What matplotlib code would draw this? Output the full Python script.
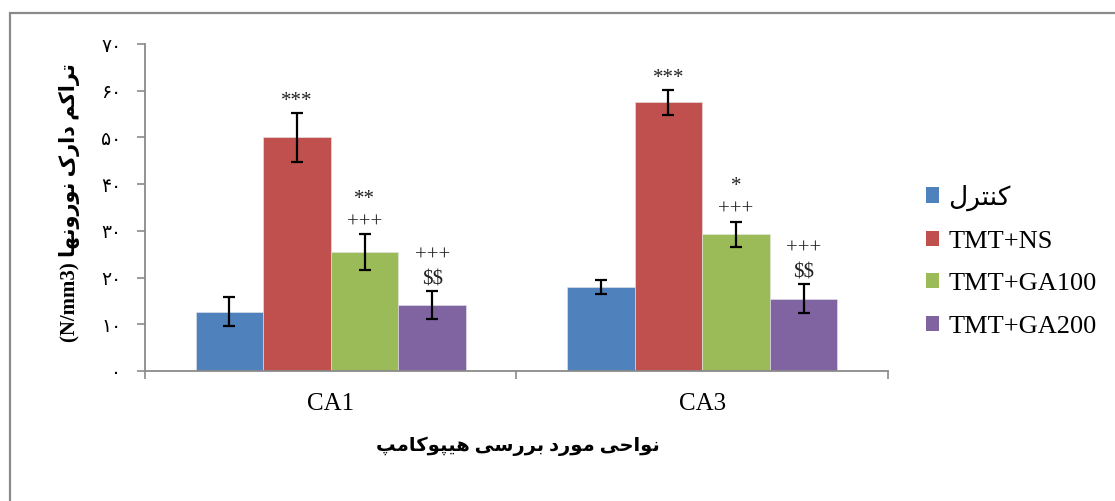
import matplotlib
matplotlib.use("Agg")
import matplotlib.pyplot as plt
from matplotlib.patches import Patch, Rectangle
from matplotlib.font_manager import FontProperties
import numpy as np

# ---- data -------------------------------------------------------------
regions = ["CA1", "CA3"]
groups = ["کنترل", "TMT+NS", "TMT+GA100", "TMT+GA200"]
means = {
    "کنترل":     [12.7, 17.9],
    "TMT+NS":    [50.0, 57.5],
    "TMT+GA100": [25.5, 29.3],
    "TMT+GA200": [14.1, 15.5],
}
errors = {
    "کنترل":     [3.1, 1.5],
    "TMT+NS":    [5.2, 2.7],
    "TMT+GA100": [3.8, 2.7],
    "TMT+GA200": [3.0, 3.1],
}
# significance marks per region (stacked lines, top line first)
sig_marks = {
    "کنترل":     ["", ""],
    "TMT+NS":    ["***", "***"],
    "TMT+GA100": ["**\n+++", "*\n+++"],
    "TMT+GA200": ["+++\n$$", "+++\n$$"],
}
colors = ["#4F81BD", "#C0504D", "#9BBB59", "#8064A2"]
y_ticks = [0, 10, 20, 30, 40, 50, 60, 70]
y_label_fa = "تراکم دارک نورونها"
y_label_unit = "(N/mm3)"
x_label_fa = "نواحی مورد بررسی هیپوکامپ"

# ---- minimal Persian shaping (matplotlib has no complex text layout) ---
FORMS = {  # isolated, final, initial, medial
    "ا": ("\uFE8D", "\uFE8E", None, None),
    "ب": ("\uFE8F", "\uFE90", "\uFE91", "\uFE92"),
    "پ": ("\uFB56", "\uFB57", "\uFB58", "\uFB59"),
    "ت": ("\uFE95", "\uFE96", "\uFE97", "\uFE98"),
    "ح": ("\uFEA1", "\uFEA2", "\uFEA3", "\uFEA4"),
    "د": ("\uFEA9", "\uFEAA", None, None),
    "ر": ("\uFEAD", "\uFEAE", None, None),
    "س": ("\uFEB1", "\uFEB2", "\uFEB3", "\uFEB4"),
    "ک": ("\uFB8E", "\uFB8F", "\uFB90", "\uFB91"),
    "ل": ("\uFEDD", "\uFEDE", "\uFEDF", "\uFEE0"),
    "م": ("\uFEE1", "\uFEE2", "\uFEE3", "\uFEE4"),
    "ن": ("\uFEE5", "\uFEE6", "\uFEE7", "\uFEE8"),
    "ه": ("\uFEE9", "\uFEEA", "\uFEEB", "\uFEEC"),
    "و": ("\uFEED", "\uFEEE", None, None),
    "ی": ("\uFBFC", "\uFBFD", "\uFBFE", "\uFBFF"),
}


def shape_fa(text):
    chars = list(text)
    out = []
    for i, c in enumerate(chars):
        if c not in FORMS:
            out.append(c)
            continue
        prev = chars[i - 1] if i > 0 else None
        nxt = chars[i + 1] if i + 1 < len(chars) else None
        joins_prev = prev in FORMS and FORMS[prev][2] is not None
        joins_next = FORMS[c][2] is not None and nxt in FORMS
        iso, fin, ini, med = FORMS[c]
        if joins_prev and joins_next:
            out.append(med)
        elif joins_prev:
            out.append(fin)
        elif joins_next:
            out.append(ini)
        else:
            out.append(iso)
    return "".join(reversed(out))


def fa_digits(n):
    return "".join(chr(0x06F0 + int(d)) for d in str(n))


FAMILY = ["Liberation Serif", "DejaVu Sans"]
plt.rcParams["font.family"] = FAMILY

# ---- figure -------------------------------------------------------------
W, H = 1115, 501
fig = plt.figure(figsize=(W / 100, H / 100), dpi=100)
fig.patch.set_facecolor("white")

# outer chart-area frame (runs off the right and bottom edges)
fig.add_artist(Rectangle((9.5 / W, -0.1), 1.2, 1 - 12.5 / H + 0.1,
                         transform=fig.transFigure, fill=False,
                         edgecolor="#8a8a8a", linewidth=1.6))

ax = fig.add_axes([145 / W, 1 - 371 / H, (888 - 145) / W, (371 - 44) / H])

x = np.arange(len(regions))
bar_w = 0.182
offsets = (np.arange(len(groups)) - 1.5) * bar_w
for g, col, off in zip(groups, colors, offsets):
    ax.bar(x + off, means[g], bar_w, color=col, edgecolor="#e8e8e8",
           linewidth=0.4, zorder=2)
    ax.errorbar(x + off, means[g], yerr=errors[g], fmt="none",
                ecolor="black", elinewidth=1.6, capsize=4.5, capthick=1.6,
                zorder=3)
    for xi, m, e, s in zip(x + off, means[g], errors[g], sig_marks[g]):
        if s:
            ax.annotate(s, (xi, m + e), xytext=(0, 2),
                        textcoords="offset pixels", ha="center", va="bottom",
                        fontsize=15, color="#222222", linespacing=1.3,
                        family="Liberation Serif", parse_math=False)

ax.set_xlim(-0.5, 1.5)
ax.set_ylim(0, 70)

for sp in ("top", "right"):
    ax.spines[sp].set_visible(False)
for sp in ("left", "bottom"):
    ax.spines[sp].set_color("#8a8a8a")
    ax.spines[sp].set_linewidth(1.3)

ax.set_yticks(y_ticks)
ax.set_yticklabels([fa_digits(v) for v in y_ticks], fontsize=13.5,
                   family="DejaVu Sans")
ax.tick_params(axis="y", direction="out", length=6, width=1.2,
               color="#8a8a8a", pad=11)

ax.set_xticks(x)
ax.set_xticklabels(regions, fontsize=18)
ax.set_xticks([-0.5, 0.5, 1.5], minor=True)
ax.tick_params(axis="x", which="major", length=0, pad=16)
ax.tick_params(axis="x", which="minor", direction="out", length=6,
               width=1.2, color="#8a8a8a")

# axis titles
fig.text(70 / W, 1 - 203 / H, y_label_unit + " " + shape_fa(y_label_fa),
         rotation=90, ha="center", va="center", fontsize=15,
         fontweight="bold", family=FAMILY)
fig.text(518 / W, 1 - 446 / H, shape_fa(x_label_fa), ha="center",
         va="center", fontsize=14, fontweight="bold", family=FAMILY)

# legend
handles = [Patch(facecolor=c, edgecolor="none") for c in colors]
labels = [shape_fa(g) if g == "کنترل" else g for g in groups]
fig.legend(handles, labels, loc="center left",
           bbox_to_anchor=(926 / W, 1 - 261 / H),
           bbox_transform=fig.transFigure, frameon=False,
           prop=FontProperties(family=FAMILY, size=19),
           handlelength=0.5, handleheight=0.5, handletextpad=0.35,
           labelspacing=0.77, borderpad=0, borderaxespad=0)

fig.savefig("out.png", dpi=100, facecolor="white")
